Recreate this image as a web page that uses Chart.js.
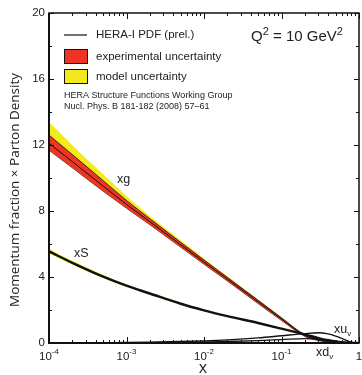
<!DOCTYPE html>
<html>
<head>
<meta charset="utf-8">
<script src="https://cdn.jsdelivr.net/npm/chart.js@4/dist/chart.umd.min.js"></script>
<style>
    html, body { margin: 0; padding: 0; background: #fff; }
    #wrap { width: 362px; height: 375px; }
</style>
</head>
<body>
<div id="wrap"><canvas id="pdf-chart" width="362" height="375"></canvas></div>
<script>
// x grid of the curves
const xs = [1e-4, 2e-4, 5e-4, 1e-3, 2e-3, 5e-3, 1e-2, 2e-2, 5e-2, 0.1, 0.2, 0.3, 0.4, 0.5, 0.6, 0.7, 0.8, 0.9, 1];

// gluon
const xgCentral = [12.1, 10.99, 9.51, 8.4, 7.35, 5.95, 4.9, 3.87, 2.49, 1.45, 0.45, 0.18, 0.08, 0.035, 0.015, 0.006, 0.002, 0.001, 0];
const xgExpUp   = [12.6, 11.42, 9.84, 8.64, 7.53, 6.1, 5.03, 3.98, 2.59, 1.53, 0.5, 0.21, 0.1, 0.045, 0.02, 0.008, 0.003, 0.001, 0];
const xgExpLo   = [11.68, 10.62, 9.2, 8.17, 7.17, 5.81, 4.78, 3.76, 2.39, 1.37, 0.4, 0.15, 0.06, 0.025, 0.01, 0.004, 0.001, 0.0005, 0];
const xgModUp   = [13.4, 11.98, 10.22, 8.9, 7.7, 6.22, 5.12, 4.04, 2.63, 1.55, 0.51, 0.21, 0.1, 0.045, 0.02, 0.008, 0.003, 0.001, 0];

// sea
const xsCentral = [5.55, 4.86, 4.02, 3.47, 3.0, 2.38, 1.98, 1.63, 1.21, 0.87, 0.52, 0.3, 0.17, 0.09, 0.045, 0.02, 0.007, 0.002, 0];
const xsModUp   = [5.7, 4.99, 4.12, 3.55, 3.07, 2.44, 2.03, 1.67, 1.24, 0.89, 0.53, 0.31, 0.17, 0.09, 0.045, 0.02, 0.007, 0.002, 0];
const xsModLo   = [5.43, 4.76, 3.94, 3.41, 2.95, 2.34, 1.94, 1.6, 1.19, 0.85, 0.51, 0.29, 0.17, 0.09, 0.045, 0.02, 0.007, 0.002, 0];

// valence
const xuv = [0.005, 0.01, 0.02, 0.03, 0.05, 0.09, 0.13, 0.19, 0.31, 0.44, 0.57, 0.62, 0.55, 0.42, 0.28, 0.15, 0.06, 0.015, 0];
const xdv = [0.003, 0.005, 0.01, 0.015, 0.025, 0.045, 0.065, 0.09, 0.15, 0.21, 0.27, 0.24, 0.18, 0.11, 0.06, 0.025, 0.008, 0.002, 0];

// axis ticks
const yMajor = [0, 4, 8, 12, 16, 20];
const yMinor = [2, 6, 10, 14, 18];
const xDecades = [-4, -3, -2, -1, 0];
const xDecadeLabels = ["-4", "-3", "-2", "-1", ""];

const RED = "#ee3424";
const YELLOW = "#f2ea1c";
const SANS = "'Liberation Sans', Arial, sans-serif";

function pts(vals) {
    return xs.map((x, i) => ({ x: x, y: vals[i] }));
}

function line(vals, opts) {
    return Object.assign({
        data: pts(vals),
        borderColor: "#111",
        borderWidth: 1,
        pointRadius: 0,
        fill: false,
        cubicInterpolationMode: "monotone"
    }, opts);
}

const datasets = [
    line(xgCentral, { order: 0, borderWidth: 1 }),                                       // 0
    line(xgExpUp, { order: 2, borderWidth: 0.8, fill: "+1", backgroundColor: RED }),     // 1
    line(xgExpLo, { order: 2, borderWidth: 0.8 }),                                       // 2
    line(xgModUp, { order: 3, borderWidth: 0, fill: "+1", backgroundColor: YELLOW }),    // 3
    line(xgExpLo, { order: 3, borderWidth: 0 }),                                         // 4
    line(xsCentral, { order: 0, borderWidth: 2.4 }),                                     // 5
    line(xsModUp, { order: 3, borderWidth: 0, fill: "+1", backgroundColor: YELLOW }),    // 6
    line(xsModLo, { order: 3, borderWidth: 0 }),                                         // 7
    line(xuv, { order: 0, borderWidth: 1.3 }),                                           // 8
    line(xdv, { order: 0, borderWidth: 1.3 })                                            // 9
];

function supText(ctx, base, sup, x, y, baseFont, supFont, align) {
    ctx.font = baseFont;
    const wb = ctx.measureText(base).width;
    ctx.font = supFont;
    const ws = ctx.measureText(sup).width;
    let x0 = x;
    if (align === "center") x0 = x - (wb + ws) / 2;
    ctx.textAlign = "left";
    ctx.textBaseline = "alphabetic";
    ctx.font = baseFont;
    ctx.fillText(base, x0, y);
    ctx.font = supFont;
    ctx.fillText(sup, x0 + wb, y - 6);
    return x0 + wb + ws;
}

function subText(ctx, base, sub, x, y) {
    ctx.font = "12.5px " + SANS;
    ctx.fillText(base, x, y);
    const w = ctx.measureText(base).width;
    ctx.font = "8px " + SANS;
    ctx.fillText(sub, x + w, y + 3);
}

const framePlugin = {
    id: "frame",
    afterDraw(chart) {
        const ctx = chart.ctx;
        const a = chart.chartArea;
        const xS = chart.scales.x;
        const yS = chart.scales.y;
        ctx.save();
        ctx.fillStyle = "#222";
        ctx.strokeStyle = "#111";

        // frame
        ctx.lineWidth = 1.5;
        ctx.strokeRect(a.left, a.top, a.right - a.left, a.bottom - a.top);
        ctx.lineWidth = 2;
        ctx.beginPath();
        ctx.moveTo(a.left, a.top);
        ctx.lineTo(a.left, a.bottom);
        ctx.lineTo(a.right, a.bottom);
        ctx.stroke();

        // ticks, pointing inwards
        ctx.lineWidth = 1;
        ctx.beginPath();
        for (const v of yMajor) {
            const py = Math.round(yS.getPixelForValue(v)) + 0.5;
            ctx.moveTo(a.left, py); ctx.lineTo(a.left + 5, py);
            ctx.moveTo(a.right, py); ctx.lineTo(a.right - 5, py);
        }
        for (const v of yMinor) {
            const py = Math.round(yS.getPixelForValue(v)) + 0.5;
            ctx.moveTo(a.left, py); ctx.lineTo(a.left + 3, py);
            ctx.moveTo(a.right, py); ctx.lineTo(a.right - 3, py);
        }
        for (const d of xDecades) {
            const px = Math.round(xS.getPixelForValue(Math.pow(10, d))) + 0.5;
            ctx.moveTo(px, a.bottom); ctx.lineTo(px, a.bottom - 6);
            ctx.moveTo(px, a.top); ctx.lineTo(px, a.top + 6);
            if (d < 0) {
                for (let m = 2; m <= 9; m++) {
                    const qx = Math.round(xS.getPixelForValue(m * Math.pow(10, d))) + 0.5;
                    ctx.moveTo(qx, a.bottom); ctx.lineTo(qx, a.bottom - 3);
                    ctx.moveTo(qx, a.top); ctx.lineTo(qx, a.top + 3);
                }
            }
        }
        ctx.stroke();

        // y tick labels
        ctx.font = "11.5px " + SANS;
        ctx.textAlign = "right";
        ctx.textBaseline = "middle";
        for (const v of yMajor) {
            ctx.fillText(String(v), a.left - 4, yS.getPixelForValue(v));
        }

        // x tick labels
        xDecades.forEach((d, i) => {
            const px = xS.getPixelForValue(Math.pow(10, d));
            if (xDecadeLabels[i] === "") {
                ctx.font = "11.5px " + SANS;
                ctx.textAlign = "center";
                ctx.textBaseline = "alphabetic";
                ctx.fillText("1", px, 360);
            } else {
                supText(ctx, "10", xDecadeLabels[i], px, 360, "11.5px " + SANS, "8px " + SANS, "center");
            }
        });

        // axis titles
        ctx.font = "16px 'Open Sans', sans-serif";
        ctx.textAlign = "center";
        ctx.textBaseline = "alphabetic";
        ctx.fillText("x", (a.left + a.right) / 2 - 1, 373);
        ctx.save();
        ctx.translate(19, 190);
        ctx.rotate(-Math.PI / 2);
        ctx.font = "13.5px 'Open Sans', sans-serif";
        ctx.fillText("Momentum fraction \u00d7 Parton Density", 0, 0);
        ctx.restore();

        // legend
        ctx.lineWidth = 1.2;
        ctx.beginPath();
        ctx.moveTo(64, 35); ctx.lineTo(87, 35);
        ctx.stroke();
        ctx.lineWidth = 1;
        ctx.fillStyle = RED;
        ctx.fillRect(64.5, 49.5, 23, 14);
        ctx.strokeRect(64.5, 49.5, 23, 14);
        ctx.fillStyle = YELLOW;
        ctx.fillRect(64.5, 69.5, 23, 14);
        ctx.strokeRect(64.5, 69.5, 23, 14);
        ctx.fillStyle = "#222";
        ctx.font = "11.5px " + SANS;
        ctx.textAlign = "left";
        ctx.textBaseline = "middle";
        ctx.fillText("HERA-I PDF (prel.)", 96, 35);
        ctx.fillText("experimental uncertainty", 96, 57);
        ctx.fillText("model uncertainty", 96, 77);
        ctx.font = "9px " + SANS;
        ctx.fillText("HERA Structure Functions Working Group", 64, 96);
        ctx.fillText("Nucl. Phys. B 181-182 (2008) 57\u201361", 64, 107);

        // Q2 label
        const qx = supText(ctx, "Q", "2", 251, 41, "15px " + SANS, "11px " + SANS, "left");
        supText(ctx, " = 10 GeV", "2", qx, 41, "15px " + SANS, "11px " + SANS, "left");

        // curve labels
        ctx.textAlign = "left";
        ctx.textBaseline = "alphabetic";
        ctx.font = "12.5px " + SANS;
        ctx.fillText("xg", 117, 183);
        ctx.fillText("xS", 74, 257);
        subText(ctx, "xu", "v", 334, 333);
        subText(ctx, "xd", "v", 316, 356);

        ctx.restore();
    }
};

new Chart(document.getElementById("pdf-chart").getContext("2d"), {
    type: "line",
    data: { datasets: datasets },
    options: {
        responsive: false,
        animation: false,
        layout: { padding: { left: 49, top: 13, right: 3, bottom: 32 } },
        scales: {
            x: { type: "logarithmic", min: 1e-4, max: 1, display: false },
            y: { type: "linear", min: 0, max: 20, display: false }
        },
        plugins: {
            legend: { display: false },
            tooltip: { enabled: false }
        }
    },
    plugins: [framePlugin]
});
</script>
</body>
</html>
